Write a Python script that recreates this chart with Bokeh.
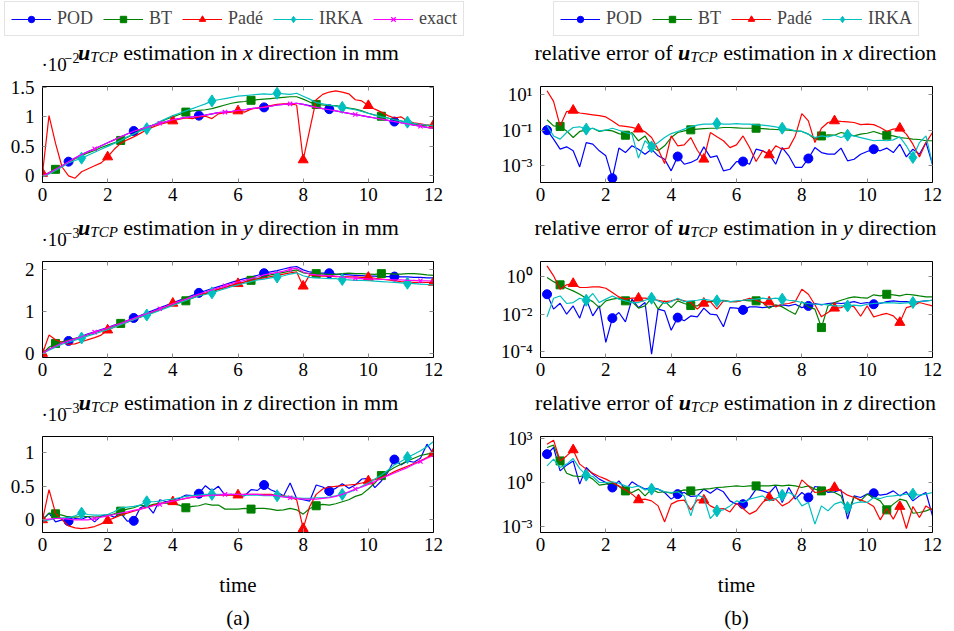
from bokeh.plotting import figure
from bokeh.models import (Range1d, LinearAxis, LogAxis, FixedTicker, CustomJSTickFormatter,
                          Label, Legend, LegendItem)
from bokeh.layouts import column, row
from bokeh.embed import file_html
from bokeh.resources import INLINE

# ---------------------------------------------------------------- data
TIME = [0.0, 0.2, 0.4, 0.6, 0.8, 1.0, 1.2, 1.4, 1.6, 1.8, 2.0, 2.2, 2.4, 2.6, 2.8, 3.0,
        3.2, 3.4, 3.6, 3.8, 4.0, 4.2, 4.4, 4.6, 4.8, 5.0, 5.2, 5.4, 5.6, 5.8, 6.0, 6.2,
        6.4, 6.6, 6.8, 7.0, 7.2, 7.4, 7.6, 7.8, 8.0, 8.2, 8.4, 8.6, 8.8, 9.0, 9.2, 9.4,
        9.6, 9.8, 10.0, 10.2, 10.4, 10.6, 10.8, 11.0, 11.2, 11.4, 11.6, 11.8, 12.0]
TIME_ERR = TIME[1:]

# u_TCP estimation, x direction (units of 1e-2 mm)
X_POD = [0, 0.05, 0.11, 0.17, 0.24, 0.30, 0.36, 0.41, 0.46, 0.51, 0.56, 0.61, 0.66, 0.71, 0.76, 0.79,
         0.83, 0.86, 0.89, 0.92, 0.95, 0.97, 0.99, 1.00, 1.02, 1.03, 1.05, 1.07, 1.08, 1.09, 1.11,
         1.12, 1.14, 1.15, 1.16, 1.18, 1.20, 1.21, 1.22, 1.23, 1.21, 1.19, 1.16, 1.14, 1.13, 1.10,
         1.08, 1.06, 1.04, 1.02, 1.00, 0.98, 0.96, 0.94, 0.92, 0.90, 0.88, 0.86, 0.84, 0.82, 0.81]
X_BT = [0, 0.05, 0.11, 0.17, 0.23, 0.29, 0.34, 0.39, 0.43, 0.48, 0.52, 0.56, 0.60, 0.65, 0.71, 0.77,
        0.81, 0.86, 0.91, 0.96, 1.00, 1.04, 1.08, 1.10, 1.11, 1.12, 1.14, 1.17, 1.20, 1.23, 1.25,
        1.26, 1.28, 1.29, 1.30, 1.31, 1.32, 1.33, 1.34, 1.34, 1.30, 1.25, 1.21, 1.20, 1.19, 1.19,
        1.17, 1.15, 1.13, 1.10, 1.06, 1.03, 1.01, 0.98, 0.95, 0.93, 0.90, 0.88, 0.86, 0.85, 0.84]
X_PADE = [0.04, 1.02, 0.55, 0.15, 0.0, -0.04, 0.07, 0.12, 0.17, 0.22, 0.32, 0.45, 0.55, 0.61, 0.66,
          0.72, 0.78, 0.83, 0.87, 0.90, 0.93, 0.96, 0.98, 0.97, 1.00, 1.01, 0.97, 1.05, 1.07, 1.08,
          1.10, 1.08, 1.13, 1.15, 1.17, 1.19, 1.21, 1.22, 1.22, 1.20, 0.27, 0.78, 1.29, 1.38, 1.42,
          1.44, 1.42, 1.39, 1.29, 1.27, 1.19, 1.13, 1.08, 1.02, 0.98, 1.00, 0.93, 0.90, 0.88, 0.86, 0.86]
X_IRKA = [-0.02, 0.03, 0.09, 0.15, 0.22, 0.26, 0.30, 0.35, 0.40, 0.45, 0.50, 0.55, 0.60, 0.66, 0.71,
          0.76, 0.80, 0.86, 0.92, 0.97, 1.02, 1.06, 1.10, 1.14, 1.18, 1.22, 1.27, 1.29, 1.31, 1.33,
          1.35, 1.36, 1.37, 1.38, 1.39, 1.38, 1.40, 1.39, 1.38, 1.40, 1.35, 1.30, 1.24, 1.22, 1.20,
          1.18, 1.16, 1.14, 1.12, 1.09, 1.06, 1.03, 1.00, 0.98, 0.95, 0.93, 0.91, 0.89, 0.87, 0.86, 0.85]
X_EXACT = [0, 0.05, 0.11, 0.17, 0.24, 0.30, 0.36, 0.41, 0.46, 0.51, 0.56, 0.61, 0.66, 0.71, 0.755,
           0.79, 0.82, 0.86, 0.89, 0.92, 0.95, 0.97, 0.99, 1.00, 1.01, 1.03, 1.05, 1.07, 1.08, 1.09,
           1.11, 1.12, 1.14, 1.15, 1.16, 1.18, 1.20, 1.21, 1.22, 1.23, 1.21, 1.18, 1.16, 1.14, 1.12,
           1.10, 1.08, 1.06, 1.04, 1.02, 1.00, 0.98, 0.96, 0.94, 0.92, 0.90, 0.88, 0.86, 0.84, 0.82, 0.81]

# u_TCP estimation, y direction (units of 1e-3 mm)
Y_POD = [0, 0.10, 0.18, 0.25, 0.30, 0.35, 0.41, 0.47, 0.52, 0.57, 0.62, 0.68, 0.73, 0.79, 0.85, 0.91,
         0.97, 1.03, 1.09, 1.15, 1.21, 1.27, 1.33, 1.39, 1.45, 1.50, 1.55, 1.60, 1.65, 1.70, 1.75,
         1.79, 1.83, 1.87, 1.92, 1.95, 1.98, 2.02, 2.06, 2.08, 2.00, 1.95, 1.93, 1.92, 1.92, 1.90,
         1.89, 1.88, 1.87, 1.86, 1.85, 1.85, 1.84, 1.84, 1.84, 1.83, 1.83, 1.82, 1.82, 1.81, 1.81]
Y_BT = [0, 0.15, 0.24, 0.28, 0.32, 0.36, 0.40, 0.45, 0.50, 0.55, 0.60, 0.66, 0.72, 0.77, 0.82, 0.88,
        0.94, 1.00, 1.06, 1.12, 1.17, 1.22, 1.26, 1.32, 1.38, 1.43, 1.48, 1.53, 1.58, 1.63, 1.67,
        1.71, 1.75, 1.79, 1.84, 1.88, 1.91, 1.94, 1.97, 2.00, 1.93, 1.91, 1.91, 1.90, 1.89, 1.89,
        1.91, 1.92, 1.91, 1.91, 1.90, 1.89, 1.91, 1.91, 1.90, 1.90, 1.91, 1.91, 1.90, 1.88, 1.87]
Y_PADE = [0, 0.44, 0.33, 0.27, 0.22, 0.23, 0.28, 0.33, 0.38, 0.44, 0.56, 0.63, 0.69, 0.75, 0.81, 0.87,
          0.93, 0.99, 1.05, 1.12, 1.20, 1.24, 1.29, 1.34, 1.39, 1.44, 1.49, 1.54, 1.58, 1.63, 1.67,
          1.71, 1.75, 1.78, 1.81, 1.84, 1.87, 1.90, 1.93, 1.95, 1.61, 1.88, 1.86, 1.85, 1.85, 1.84,
          1.84, 1.83, 1.83, 1.82, 1.82, 1.80, 1.78, 1.76, 1.74, 1.72, 1.71, 1.70, 1.70, 1.70, 1.70]
Y_IRKA = [0, 0.08, 0.15, 0.22, 0.27, 0.32, 0.37, 0.42, 0.47, 0.52, 0.57, 0.63, 0.69, 0.75, 0.81, 0.87,
          0.92, 0.97, 1.03, 1.09, 1.15, 1.21, 1.27, 1.33, 1.38, 1.41, 1.45, 1.50, 1.55, 1.60, 1.64,
          1.68, 1.72, 1.76, 1.78, 1.81, 1.83, 1.86, 1.90, 1.93, 1.86, 1.82, 1.81, 1.80, 1.79, 1.79,
          1.77, 1.76, 1.75, 1.75, 1.74, 1.73, 1.72, 1.71, 1.70, 1.69, 1.68, 1.67, 1.66, 1.65, 1.64]
Y_EXACT = [0, 0.10, 0.18, 0.25, 0.30, 0.35, 0.40, 0.46, 0.51, 0.56, 0.61, 0.67, 0.72, 0.78, 0.84, 0.90,
           0.95, 1.01, 1.07, 1.13, 1.19, 1.25, 1.30, 1.36, 1.42, 1.47, 1.52, 1.57, 1.62, 1.67, 1.71,
           1.75, 1.79, 1.83, 1.88, 1.91, 1.94, 1.97, 2.01, 2.04, 1.95, 1.90, 1.88, 1.87, 1.86, 1.85,
           1.83, 1.81, 1.80, 1.79, 1.78, 1.78, 1.77, 1.77, 1.76, 1.76, 1.75, 1.75, 1.74, 1.74, 1.73]

# u_TCP estimation, z direction (units of 1e-3 mm)
Z_POD = [0, 0.10, -0.03, 0.0, -0.02, 0.02, 0.01, 0.05, -0.03, 0.06, 0.08, 0.04, 0.10, -0.02, -0.015,
         0.18, 0.22, 0.10, 0.30, 0.27, 0.30, 0.32, 0.37, 0.36, 0.39, 0.51, 0.43, 0.50, 0.37, 0.38,
         0.34, 0.36, 0.45, 0.44, 0.52, 0.45, 0.41, 0.36, 0.55, 0.32, 0.30, 0.28, 0.52, 0.49, 0.43,
         0.47, 0.54, 0.47, 0.52, 0.61, 0.62, 0.48, 0.58, 0.71, 0.90, 0.82, 0.88, 0.86, 0.92, 1.13, 0.98]
Z_BT = [0, 0.10, 0.09, 0.07, 0.04, 0.04, 0.05, 0.05, 0.04, 0.05, 0.06, 0.09, 0.13, 0.16, 0.18, 0.22,
        0.20, 0.23, 0.25, 0.25, 0.24, 0.22, 0.18, 0.20, 0.21, 0.24, 0.22, 0.22, 0.16, 0.16, 0.16,
        0.17, 0.16, 0.17, 0.17, 0.16, 0.14, 0.15, 0.17, 0.15, 0.085, 0.17, 0.21, 0.23, 0.22, 0.24,
        0.27, 0.30, 0.35, 0.38, 0.46, 0.55, 0.66, 0.72, 0.78, 0.83, 0.88, 0.92, 0.96, 0.98, 1.00]
Z_PADE = [0, 0.45, 0.10, 0.0, -0.09, -0.12, -0.13, -0.12, -0.10, -0.06, -0.01, 0.03, 0.07, 0.10, 0.13,
          0.16, 0.19, 0.22, 0.24, 0.26, 0.27, 0.30, 0.32, 0.34, 0.35, 0.36, 0.36, 0.37, 0.37, 0.37,
          0.37, 0.38, 0.38, 0.38, 0.38, 0.38, 0.37, 0.36, 0.34, 0.30, -0.13, 0.20, 0.38, 0.46, 0.49,
          0.50, 0.51, 0.52, 0.53, 0.55, 0.58, 0.60, 0.63, 0.67, 0.72, 0.76, 0.80, 0.84, 0.88, 0.93, 0.99]
Z_IRKA = [-0.02, 0.0, 0.02, 0.03, 0.03, 0.06, 0.10, 0.08, 0.07, 0.07, 0.08, 0.12, 0.18, 0.19, 0.20,
          0.22, 0.27, 0.27, 0.28, 0.30, 0.31, 0.33, 0.35, 0.36, 0.37, 0.38, 0.38, 0.38, 0.38, 0.38,
          0.38, 0.37, 0.37, 0.37, 0.36, 0.36, 0.36, 0.35, 0.35, 0.33, 0.32, 0.32, 0.33, 0.33, 0.34,
          0.36, 0.38, 0.41, 0.45, 0.50, 0.55, 0.61, 0.67, 0.74, 0.82, 0.87, 0.93, 0.98, 1.03, 1.09, 1.17]
Z_EXACT = [0, 0.01, 0.02, 0.02, 0.01, 0.0, 0.0, 0.0, 0.02, 0.04, 0.06, 0.08, 0.10, 0.12, 0.14, 0.16,
           0.18, 0.21, 0.23, 0.26, 0.28, 0.30, 0.32, 0.34, 0.35, 0.36, 0.37, 0.37, 0.38, 0.38, 0.38,
           0.38, 0.38, 0.38, 0.37, 0.37, 0.36, 0.34, 0.33, 0.32, 0.31, 0.31, 0.31, 0.32, 0.33, 0.35,
           0.38, 0.42, 0.46, 0.49, 0.53, 0.57, 0.62, 0.66, 0.70, 0.74, 0.78, 0.83, 0.87, 0.92, 0.96]

# relative errors, given as decimal exponents (value = 10**e), t = 0.2 ... 12
EX_POD = [-1.01, -1.51, -2.07, -1.94, -2.16, -3.06, -1.70, -1.79, -2.16, -2.44,
          -3.69, -2.01, -2.26, -1.88, -2.07, -2.35, -2.07, -2.44, -2.63, -3.28,
          -2.48, -2.91, -2.81, -2.63, -1.94, -2.53, -2.44, -3.28, -3.19, -2.76,
          -2.76, -2.91, -2.07, -2.16, -2.35, -2.91, -1.98, -2.44, -3.09, -3.09,
          -2.59, -1.98, -2.26, -2.35, -2.35, -2.01, -2.72, -2.63, -2.35, -2.20,
          -2.07, -2.16, -2.01, -2.26, -1.79, -2.50, -2.07, -2.35, -1.70, -2.91]
EX_BT = [-0.43, -0.77, -0.80, -1.05, -1.42, -1.08, -1.01, -0.90, -1.08, -1.01,
         -1.05, -1.20, -1.29, -1.14, -1.60, -1.33, -1.94, -2.16, -1.88, -1.42,
         -1.14, -1.05, -0.99, -0.95, -0.92, -0.90, -0.90, -0.86, -0.86, -0.88,
         -0.90, -0.90, -0.90, -0.92, -0.95, -0.97, -0.99, -1.01, -1.05, -1.08,
         -1.23, -1.51, -1.33, -1.27, -1.29, -1.14, -1.23, -1.33, -1.23, -1.18,
         -1.08, -1.20, -1.29, -1.33, -1.42, -1.46, -1.51, -1.53, -1.60, -1.60]
EX_PADE = [1.19, 0.60, -0.77, 0.03, 0.10, -0.05, -0.10, -0.15, -0.20, -0.27,
           -0.50, -0.75, -0.80, -0.85, -0.95, -1.10, -1.42, -2.07, -2.87, -1.33,
           -1.88, -1.83, -1.42, -2.13, -2.63, -1.14, -1.38, -1.60, -1.98, -1.83,
           -1.33, -1.98, -2.76, -2.16, -2.39, -1.88, -2.07, -2.01, -1.33, -0.08,
           -0.49, -1.70, -0.90, -0.58, -0.49, -0.52, -0.54, -0.58, -0.70, -0.67,
           -0.70, -0.86, -1.07, -0.95, -0.90, -1.23, -1.79, -2.50, -1.70, -1.14]
EX_IRKA = [-0.77, -1.33, -1.51, -1.14, -0.86, -0.82, -0.95, -0.90, -1.05, -1.01,
           -0.90, -1.01, -1.14, -1.23, -2.57, -1.60, -1.94, -1.70, -1.42, -1.20,
           -1.08, -0.95, -0.82, -0.73, -0.67, -0.67, -0.64, -0.67, -0.67, -0.64,
           -0.67, -0.67, -0.71, -0.73, -0.77, -0.82, -0.90, -0.95, -1.05, -1.08,
           -1.23, -1.42, -1.33, -1.38, -1.29, -1.42, -1.29, -1.33, -1.42, -1.51,
           -1.60, -1.57, -1.60, -1.55, -1.38, -1.88, -2.53, -1.70, -1.33, -2.91]

EY_POD = [-0.94, -1.73, -1.42, -2.00, -1.56, -2.21, -1.20, -2.09, -1.56, -3.50,
          -2.21, -1.91, -2.41, -1.20, -1.65, -1.38, -4.12, -1.73, -1.82, -2.85,
          -2.18, -2.35, -2.09, -2.14, -1.68, -2.00, -2.04, -2.67, -1.65, -1.68,
          -1.77, -1.61, -1.61, -1.65, -1.61, -1.56, -1.50, -1.56, -1.47, -1.65,
          -1.56, -1.43, -1.50, -1.43, -1.40, -1.43, -1.40, -1.33, -1.43, -1.38,
          -1.47, -1.43, -1.33, -1.29, -1.33, -1.33, -1.38, -1.33, -1.29, -1.26]
EY_BT = [-0.05, -0.27, -0.44, -0.62, -0.76, -0.94, -1.15, -1.33, -1.65, -1.29,
         -1.20, -1.15, -1.29, -1.33, -1.68, -1.56, -1.15, -1.73, -1.29, -1.65,
         -1.29, -1.43, -1.54, -1.56, -1.29, -1.33, -1.29, -1.26, -1.33, -1.33,
         -1.26, -1.29, -1.29, -1.38, -1.68, -1.50, -1.61, -1.82, -2.00, -1.33,
         -1.61, -1.73, -2.71, -1.56, -1.38, -1.26, -1.15, -1.08, -1.12, -1.15,
         -0.97, -1.03, -0.94, -0.97, -1.03, -0.94, -0.97, -1.03, -1.08, -1.08]
EY_PADE = [0.57, 0.04, -0.67, -0.44, -0.37, -0.58, -0.58, -0.55, -0.55, -0.62,
           -0.85, -1.08, -1.20, -1.15, -1.15, -1.15, -1.20, -1.26, -1.33, -1.29,
           -1.20, -1.29, -1.38, -1.73, -1.42, -1.33, -1.73, -1.29, -1.33, -1.33,
           -1.26, -1.15, -1.26, -1.38, -1.35, -1.61, -1.47, -1.43, -1.33, -0.67,
           -0.94, -1.50, -2.14, -1.91, -1.68, -1.65, -1.50, -1.61, -2.11, -1.56,
           -2.14, -2.04, -1.96, -2.09, -2.44, -1.65, -1.56, -1.38, -1.47, -1.56]
EY_IRKA = [-2.14, -1.15, -1.03, -1.43, -1.38, -1.15, -1.26, -0.90, -1.38, -1.20,
           -1.03, -1.20, -1.29, -1.38, -1.38, -1.26, -1.15, -1.29, -1.43, -1.33,
           -1.15, -1.33, -1.29, -1.26, -1.20, -1.26, -1.29, -1.29, -1.33, -1.29,
           -1.26, -1.22, -1.20, -1.15, -1.20, -1.15, -1.20, -1.26, -1.29, -1.38,
           -1.43, -1.47, -1.47, -1.50, -1.56, -1.56, -1.56, -1.52, -1.56, -1.47,
           -1.43, -1.40, -1.38, -1.40, -1.42, -1.40, -1.38, -1.33, -1.29, -1.26]

EZ_POD = [1.93, 2.38, 0.79, 1.18, 1.47, -0.11, 1.02, 0.57, 0.23, 0.00,
          -0.34, 0.11, -0.50, 0.05, -0.23, -0.45, -0.34, -0.45, -0.68, -1.13,
          -0.79, -0.68, -0.95, -0.91, -0.45, -0.73, -0.41, -0.63, -1.25, -1.47,
          -1.47, -1.09, -0.45, -0.57, -0.73, -0.23, -1.36, -0.34, -1.13, -0.68,
          -1.02, -0.27, -0.34, -0.68, -0.63, -0.50, -2.49, -0.91, -1.02, -0.79,
          -0.73, -0.86, -0.79, -0.57, -0.91, -0.63, -1.25, -0.91, -0.68, -2.27]
EZ_BT = [2.38, 2.54, 1.47, 0.63, 0.45, 0.41, 0.50, 0.23, -0.18, -0.11,
         -0.05, -0.27, -0.57, -0.68, -0.45, -0.91, -0.45, -0.68, -0.63, -0.73,
         -0.63, -0.50, -0.57, -0.50, -0.45, -0.41, -0.34, -0.32, -0.27, -0.23,
         -0.27, -0.23, -0.23, -0.23, -0.23, -0.18, -0.23, -0.18, -0.23, -0.34,
         -0.23, -0.45, -0.57, -0.57, -0.68, -0.91, -2.15, -0.95, -1.25, -0.79,
         -1.02, -1.25, -1.86, -1.47, -1.13, -1.25, -2.09, -2.04, -1.93, -1.77]
EZ_PADE = [2.61, 2.88, 1.47, 1.81, 2.22, 1.25, 0.91, 0.63, 0.41, 0.23,
           0.00, -0.23, -0.50, -0.79, -1.18, -1.13, -1.25, -1.59, -2.68, -1.47,
           -1.25, -1.20, -1.86, -1.18, -1.20, -1.59, -1.81, -1.77, -2.00, -1.41,
           -1.77, -2.15, -1.93, -1.36, -1.02, -1.13, -1.59, -1.36, -0.91, 0.18,
           -0.23, -0.68, -0.63, -0.50, -0.34, -0.57, -0.86, -1.02, -1.18, -1.36,
           -1.63, -2.54, -1.77, -2.49, -1.63, -3.13, -1.63, -2.38, -1.59, -1.88]
EZ_IRKA = [1.13, 1.59, 1.02, 1.25, 1.63, 0.95, 0.50, 0.41, 0.00, 0.00,
           0.05, -0.05, -0.23, -0.34, -0.23, -0.50, -0.45, -0.45, -0.63, -0.68,
           -0.63, -0.91, -2.27, -0.86, -1.02, -2.45, -1.93, -1.86, -1.59, -1.25,
           -1.36, -1.13, -1.02, -0.91, -1.25, -1.09, -0.86, -0.68, -0.91, -1.59,
           -1.36, -2.83, -1.59, -1.93, -1.47, -1.32, -1.70, -1.41, -1.32, -1.36,
           -1.02, -1.09, -0.95, -0.91, -0.86, -0.79, -0.79, -0.86, -0.79, -0.68]

SERIES = ["POD", "BT", "Padé", "IRKA", "exact"]
X_TICKS = [0, 2, 4, 6, 8, 10, 12]

# ---------------------------------------------------------------- style
FONT = "'Liberation Serif', serif"
COLORS = {"POD": "#0000ff", "BT": "#008000", "Padé": "#ff0000", "IRKA": "#00bfbf", "exact": "#ff00ff"}
MARKERS = {"POD": ("circle", 9), "BT": ("square", 8), "Padé": ("triangle", 10),
           "IRKA": ("diamond", 12), "exact": ("x", 6)}
PHASE_EST = {"POD": 4, "BT": 2, "Padé": 0, "IRKA": 6, "exact": 8}
PHASE_ERR = {"POD": 0, "BT": 2, "Padé": 4, "IRKA": 6}
LW = 1.2
TICK_FS = "19px"
TITLE_PX = 22
SUB_PX = 15
NAN = float("nan")

FMT_NUM = CustomJSTickFormatter(code="return (Math.round(tick*100)/100).toString();")
FMT_LOG = CustomJSTickFormatter(code="""
const e = Math.round(Math.log10(tick));
const sup = {'-':'\u207b','0':'\u2070','1':'\u00b9','2':'\u00b2','3':'\u00b3','4':'\u2074'};
return '10' + String(e).split('').map(c => sup[c]).join('');
""")
FMT_NONE = CustomJSTickFormatter(code="return '';")


def style_axis(ax, labelled):
    ax.axis_line_color = "black"
    ax.axis_line_width = 1
    ax.major_tick_in = 4
    ax.major_tick_out = 0
    ax.major_tick_line_color = "#8c8c8c"
    ax.major_tick_line_width = 1
    ax.minor_tick_line_color = None
    ax.major_label_text_font = FONT
    ax.major_label_text_font_size = TICK_FS
    ax.major_label_text_color = "black"
    if not labelled:
        ax.formatter = FMT_NONE
        ax.major_label_text_font_size = "0px"
        ax.major_label_standoff = 0


def make_fig(width, height, bl, br, bt, bb, yrange, yticks, log):
    p = figure(width=width, height=height, x_range=Range1d(0, 12), y_range=Range1d(*yrange),
               y_axis_type="log" if log else "linear", output_backend="svg",
               toolbar_location=None, min_border_left=bl, min_border_right=br,
               min_border_top=bt, min_border_bottom=bb)
    p.grid.visible = False
    p.outline_line_color = "black"
    p.background_fill_color = "white"
    p.border_fill_color = "white"
    xt = FixedTicker(ticks=X_TICKS)
    yt = FixedTicker(ticks=yticks)
    p.xaxis.ticker = xt
    p.xaxis.formatter = FMT_NUM
    p.xaxis.major_label_standoff = 5
    style_axis(p.xaxis[0], True)
    p.yaxis.ticker = yt
    p.yaxis.formatter = FMT_LOG if log else FMT_NUM
    p.yaxis.major_label_standoff = 8
    style_axis(p.yaxis[0], True)
    top = LinearAxis(ticker=xt)
    style_axis(top, False)
    p.add_layout(top, "above")
    right = (LogAxis if log else LinearAxis)(ticker=yt)
    style_axis(right, False)
    p.add_layout(right, "right")
    return p


def strip(height):
    s = figure(width=477, height=height, x_range=Range1d(0, 1), y_range=Range1d(0, 1),
               output_backend="svg", toolbar_location=None, min_border=0,
               x_axis_location=None, y_axis_location=None)
    s.grid.visible = False
    s.outline_line_color = None
    s.background_fill_color = "white"
    s.border_fill_color = "white"
    return s


def draw(p, xs, series_data, phases):
    for name in SERIES:
        if name not in series_data:
            continue
        ys = series_data[name]
        c = COLORS[name]
        p.line(xs, ys, line_color=c, line_width=LW)
        mk, sz = MARKERS[name]
        ph = phases[name]
        p.scatter(xs[ph::10], ys[ph::10], marker=mk, size=sz, fill_color=c,
                  line_color=c, line_width=1.2 if mk == "x" else 1)


def legend_strip(names, vx):
    s = strip(40)
    items = []
    for name in names:
        c = COLORS[name]
        mk, sz = MARKERS[name]
        # invisible proxies (NaN) that only carry the legend styling
        ln = s.line([NAN, NAN], [NAN, NAN], line_color=c, line_width=LW)
        sc = s.scatter([NAN], [NAN], marker=mk, size=sz, fill_color=c, line_color=c,
                       line_width=1.2 if mk == "x" else 1)
        items.append(LegendItem(label=name, renderers=[ln, sc]))
    leg = Legend(items=items, location=(vx, 4), orientation="horizontal",
                 label_text_font=FONT, label_text_font_size="18px",
                 glyph_width=40, glyph_height=16, label_standoff=6, spacing=10,
                 padding=6, margin=0, border_line_color="#c8c8c8",
                 border_line_width=1, background_fill_color="white",
                 background_fill_alpha=1.0)
    s.add_layout(leg)
    return s


# Times / Liberation Serif advance widths (1/1000 em) for laying out mixed-style titles
TW_RM = {" ": 250, "a": 444, "c": 444, "d": 500, "e": 444, "f": 333, "i": 278, "l": 278,
         "m": 778, "n": 500, "o": 500, "r": 333, "s": 389, "t": 278, "v": 500}
TW_IT = {"x": 444, "y": 444, "z": 389, "T": 556, "C": 667, "P": 611}
TW_BI = {"u": 556}


def seg_w(text, kind):
    if kind == "rm":
        return sum(TW_RM[c] for c in text) * TITLE_PX / 1000
    if kind == "it":
        return sum(TW_IT[c] for c in text) * TITLE_PX / 1000
    if kind == "bi":
        return sum(TW_BI[c] for c in text) * TITLE_PX / 1000
    return sum(TW_IT[c] for c in text) * SUB_PX / 1000


def add_title(s, segs, center, mid_y):
    # segs: (text, kind, space_before); mid_y = vertical middle of the main text
    space = TW_RM[" "] * TITLE_PX / 1000
    total = sum(seg_w(t, k) + (space if sp else 0) for t, k, sp in segs)
    cur = center - total / 2
    for t, k, sp in segs:
        if sp:
            cur += space
        style = {"rm": "normal", "it": "italic", "bi": "bold italic", "sub": "italic"}[k]
        fs = f"{SUB_PX}px" if k == "sub" else f"{TITLE_PX}px"
        y = mid_y - 5 if k == "sub" else mid_y
        s.add_layout(Label(x=cur, y=y, x_units="screen", y_units="screen", text=t,
                           text_font=FONT, text_font_size=fs, text_font_style=style,
                           text_color="black", text_align="left", text_baseline="middle"))
        cur += seg_w(t, k)


def add_multiplier(s, exp_text, mid_y):
    s.add_layout(Label(x=41, y=mid_y, x_units="screen", y_units="screen", text="\u00b710",
                       text_font=FONT, text_font_size=TICK_FS, text_color="black",
                       text_baseline="middle"))
    s.add_layout(Label(x=64, y=mid_y + 6, x_units="screen", y_units="screen", text=exp_text,
                       text_font=FONT, text_font_size="14px", text_color="black",
                       text_baseline="middle"))


# ---------------------------------------------------------------- geometry
TITLE_H = [34, 33, 33]
PLOT_H = 142      # 12 px top border + 96 px frame + 34 px bottom border
LEFT = (477, 42, 44)    # (fig width, left border, right border)
RIGHT = (477, 63, 22)

EST = [
    ({"POD": X_POD, "BT": X_BT, "Padé": X_PADE, "IRKA": X_IRKA, "exact": X_EXACT},
     (-0.113, 1.514), [0, 0.5, 1, 1.5], "x", "\u22122"),
    ({"POD": Y_POD, "BT": Y_BT, "Padé": Y_PADE, "IRKA": Y_IRKA, "exact": Y_EXACT},
     (-0.096, 2.2), [0, 1, 2], "y", "\u22123"),
    ({"POD": Z_POD, "BT": Z_BT, "Padé": Z_PADE, "IRKA": Z_IRKA, "exact": Z_EXACT},
     (-0.189, 1.244), [0, 0.5, 1], "z", "\u22123"),
]
ERR = [
    ({"POD": EX_POD, "BT": EX_BT, "Padé": EX_PADE, "IRKA": EX_IRKA},
     (10 ** -3.93, 10 ** 1.43), [1e-3, 1e-1, 1e1], "x"),
    ({"POD": EY_POD, "BT": EY_BT, "Padé": EY_PADE, "IRKA": EY_IRKA},
     (10 ** -4.30, 10 ** 0.80), [1e-4, 1e-2, 1e0], "y"),
    ({"POD": EZ_POD, "BT": EZ_BT, "Padé": EZ_PADE, "IRKA": EZ_IRKA},
     (10 ** -3.40, 10 ** 3.13), [1e-3, 1e0, 1e3], "z"),
]

blocks = [row(legend_strip(SERIES, 4), legend_strip(SERIES[:4], 76))]
for r in range(3):
    data, yr, yt, ax, mult = EST[r]
    edata, eyr, eyt, eax = ERR[r]
    th = TITLE_H[r]

    tl = strip(th)
    add_title(tl, [("u", "bi", False), ("TCP", "sub", False), ("estimation in", "rm", True),
                   (ax, "it", True), ("direction in mm", "rm", True)], 238.0, 22.5)
    add_multiplier(tl, mult, 10.5)
    tr = strip(th)
    add_title(tr, [("relative error of", "rm", False), ("u", "bi", True), ("TCP", "sub", False),
                   ("estimation in", "rm", True), (eax, "it", True), ("direction", "rm", True)],
              258.0, 22.5)
    blocks.append(row(tl, tr))

    pl = make_fig(LEFT[0], PLOT_H, LEFT[1], LEFT[2], 12, 34, yr, yt, False)
    draw(pl, TIME, data, PHASE_EST)
    edata_v = {k: [10 ** e for e in v] for k, v in edata.items()}
    pr = make_fig(RIGHT[0], PLOT_H, RIGHT[1], RIGHT[2], 12, 34, eyr, eyt, True)
    draw(pr, TIME_ERR, edata_v, PHASE_ERR)
    blocks.append(row(pl, pr))

caps = []
for cap, cx in (("(a)", 237.5), ("(b)", 259.0)):
    s = strip(65)
    s.add_layout(Label(x=cx, y=47, x_units="screen", y_units="screen", text="time",
                       text_font=FONT, text_font_size="21px", text_align="center",
                       text_baseline="middle", text_color="black"))
    s.add_layout(Label(x=cx, y=14, x_units="screen", y_units="screen", text=cap,
                       text_font=FONT, text_font_size="21px", text_align="center",
                       text_baseline="middle", text_color="black"))
    caps.append(s)
blocks.append(row(*caps))

layout = column(*blocks)
open("out.html", "w").write(file_html(layout, INLINE))
